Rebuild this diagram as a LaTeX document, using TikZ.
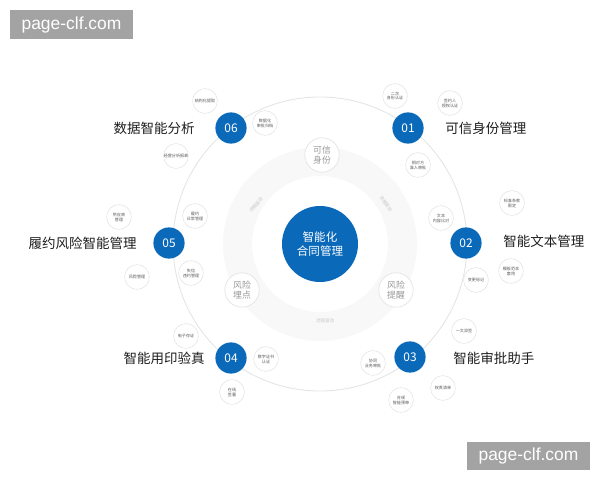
\documentclass[tikz,border=0pt]{standalone}
\usepackage{fontspec}
\setmainfont{Noto Sans CJK SC}
\newfontfamily\wmfont{Liberation Sans}
\usetikzlibrary{positioning}
\definecolor{mainblue}{HTML}{0B69BA}
\definecolor{ringline}{HTML}{E4E4E4}
\definecolor{bandfill}{HTML}{F8F8F8}
\definecolor{titletext}{HTML}{1E1E1E}
\definecolor{wmgray}{HTML}{A3A3A3}

\begin{document}
\begin{tikzpicture}[x=0.025cm, y=-0.025cm,
  hub/.style={circle, fill=mainblue, minimum size=1.9cm, inner sep=0pt, align=center, text=white, font=\fontsize{8.2}{10}\selectfont},
  numdot/.style={circle, fill=mainblue, minimum size=0.78cm, inner sep=0pt, text=white, font=\fontsize{8.5}{10}\selectfont},
  pillar/.style={circle, fill=white, draw=ringline, line width=0.5pt, minimum size=0.86cm, inner sep=0pt, align=center, text=gray!80, font=\fontsize{6.3}{7.4}\selectfont},
  leaf/.style={circle, fill=white, draw=ringline, line width=0.4pt, minimum size=0.62cm, inner sep=0pt, align=center, text=gray!70!black, font=\fontsize{2.9}{3.5}\selectfont},
  title/.style={text=titletext, font=\fontsize{9.6}{11}\selectfont, inner sep=0pt},
  bandtext/.style={text=gray!45, font=\fontsize{3.2}{4}\selectfont, inner sep=0pt},
  watermark/.style={fill=wmgray, text=white, minimum width=3.08cm, minimum height=0.72cm, font=\wmfont\fontsize{12.4}{14}\selectfont}
]
  \useasboundingbox (0,0) rectangle (600,480);
  \fill[white] (0,0) rectangle (600,480);

  % rings
  \fill[bandfill, even odd rule] (320,244) circle[radius=97] (320,244) circle[radius=68];
  \draw[ringline, line width=0.6pt] (320,244) circle[radius=147];

  % centre and ring labels
  \node[hub] (hub) at (320,244) {智能化\\合同管理};
  \node[pillar] (p1) at (322,155) {可信\\身份};
  \node[pillar] (p2) at (242,290) {风险\\埋点};
  \node[pillar] (p3) at (396,290) {风险\\提醒};
  \node[bandtext, rotate=50] (b1) at (256,205) {流程驱动};
  \node[bandtext, rotate=-55] (b2) at (386,204) {流程驱动};
  \node[bandtext] (b3) at (325,321) {流程驱动};

  % numbered modules
  \node[numdot] (n1) at (408,128) {01};
  \node[numdot] (n2) at (466,243) {02};
  \node[numdot] (n3) at (410,357) {03};
  \node[numdot] (n4) at (231,358) {04};
  \node[numdot] (n5) at (169,243) {05};
  \node[numdot] (n6) at (231,128) {06};

  \node[title, anchor=west] (t1) at (445,128) {可信身份管理};
  \node[title, anchor=west] (t2) at (503,241) {智能文本管理};
  \node[title, anchor=west] (t3) at (453,358) {智能审批助手};
  \node[title, anchor=east] (t4) at (205,358) {智能用印验真};
  \node[title, anchor=east] (t5) at (137,243) {履约风险智能管理};
  \node[title, anchor=east] (t6) at (195,128) {数据智能分析};

  % satellites
  \node[leaf] (s1a) at (395,96) {二次\\身份认证};
  \node[leaf] (s1b) at (450,103) {签约人\\授权认证};
  \node[leaf] (s1c) at (418,165) {相对方\\准入审批};

  \node[leaf] (s2a) at (512,203) {标准条款\\限定};
  \node[leaf] (s2b) at (441,218) {文本\\内容比对};
  \node[leaf] (s2c) at (511,271) {模板范本\\套用};
  \node[leaf] (s2d) at (476,280) {变更标记};

  \node[leaf] (s3a) at (464,331) {一文双签};
  \node[leaf] (s3b) at (373,363) {协同\\业务审批};
  \node[leaf] (s3c) at (401,400) {合规\\智能预审};
  \node[leaf] (s3d) at (443,388) {权责清单};

  \node[leaf] (s4a) at (186,336) {电子存证};
  \node[leaf] (s4b) at (266,359) {数字证书\\认证};
  \node[leaf] (s4c) at (232,392) {在线\\签署};

  \node[leaf] (s5a) at (119,217) {供应商\\管理};
  \node[leaf] (s5b) at (195,216) {履约\\日常管理};
  \node[leaf] (s5c) at (137,277) {风险管理};
  \node[leaf] (s5d) at (191,273) {失信\\违约管理};

  \node[leaf] (s6a) at (205,101) {结构化提取};
  \node[leaf] (s6b) at (265,123) {数据化\\审批归档};
  \node[leaf] (s6c) at (176,156) {经营分析报表};

  % watermarks
  \node[watermark] (w1) at (71.5,24.5) {page-clf.com};
  \node[watermark] (w2) at (528.5,456) {page-clf.com};
\end{tikzpicture}
\end{document}
